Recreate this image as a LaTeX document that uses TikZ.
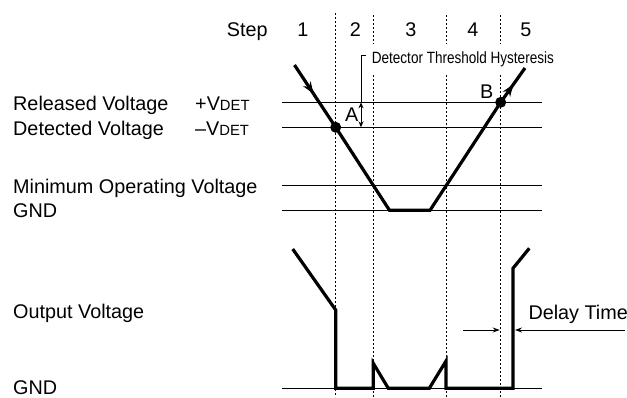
\documentclass[tikz,border=0pt]{standalone}
\usepackage{fontspec}
\setmainfont{Liberation Sans}
\newfontfamily\narrowfont[FakeStretch=0.83]{Liberation Sans}
\usetikzlibrary{arrows.meta,calc}
\begin{document}
\begin{tikzpicture}[x=1pt,y=-1pt,
  lbl/.style={font=\fontsize{19.8}{22}\selectfont, inner sep=0pt, anchor=base west},
  num/.style={font=\fontsize{19.8}{22}\selectfont, inner sep=0pt, anchor=base},
  level/.style={line width=1.1pt},
  guide/.style={line width=1pt, dash pattern=on 2pt off 2pt},
  wave/.style={line width=3.2pt},
  hd/.style={-{Stealth[length=12pt,width=9pt]}},
  small/.style={line width=1pt},
  dot/.style={circle, fill=black, inner sep=0pt, minimum size=11pt},
]
\useasboundingbox (0,0) rectangle (627,397);
% guides
\coordinate (g1t) at (335.7,13); \coordinate (g1b) at (335.7,397);
\coordinate (g2t) at (373.3,15); \coordinate (g2b) at (373.3,397);
\coordinate (g3t) at (446,15);   \coordinate (g3b) at (446,397);
\coordinate (g4t) at (500.7,15); \coordinate (g4b) at (500.7,397);
\draw[guide] (g1t) -- (g1b);
\draw[guide] (g2t) -- (g2b);
\draw[guide] (g3t) -- (g3b);
\draw[guide] (g4t) -- (g4b);
% step labels
\node[lbl] (step) at (226.7,36.7) {Step};
\node[num] (s1) at (303,36.7) {1};
\node[num] (s2) at (355.3,36.7) {2};
\node[num] (s3) at (411,36.7) {3};
\node[num] (s4) at (473,36.7) {4};
\node[num] (s5) at (526,36.7) {5};
% hysteresis label
\node[anchor=base west, fill=white, inner xsep=2pt, inner ysep=7pt,
      font=\narrowfont\fontsize{16.3}{18}\selectfont] (hyst) at (369.7,63.3) {Detector Threshold Hysteresis};
% levels
\coordinate (rl) at (282,102.3); \coordinate (rr) at (541.7,102.3);
\coordinate (dl) at (282,127.3); \coordinate (dr) at (541.7,127.3);
\coordinate (ml) at (282,185.7); \coordinate (mr) at (541.7,185.7);
\coordinate (gl) at (282,210.3); \coordinate (gr) at (541.7,210.3);
\coordinate (ol) at (282,388.3); \coordinate (or) at (541.7,388.3);
\draw[level] (rl) -- (rr);
\draw[level] (dl) -- (dr);
\draw[level] (ml) -- (mr);
\draw[level] (gl) -- (gr);
\draw[level] (ol) -- (or);
% left labels
\node[lbl] (rel) at (13,110) {Released Voltage};
\node[lbl] (relv) at (195,110) {+V{\fontsize{14.8}{16}\selectfont DET}};
\node[lbl] (det) at (13,135) {Detected Voltage};
\node[lbl] (detv) at (195,135) {–V{\fontsize{14.8}{16}\selectfont DET}};
\node[lbl] (minop) at (13,193) {Minimum Operating Voltage};
\node[lbl] (gnd1) at (13,217.8) {GND};
\node[lbl] (outv) at (13,318.5) {Output Voltage};
\node[lbl] (gnd2) at (13,394.3) {GND};
% bracket + double arrow
\coordinate (bt) at (366,55);
\coordinate (bc) at (361,55);
\coordinate (bu) at (361,102.3);
\coordinate (bd) at (361,127.3);
\draw[small] (bt) -- (bc) -- (bu);
\draw[small, {Stealth[length=6pt,width=5pt]}-{Stealth[length=6pt,width=5pt]}] (bu) -- (bd);
% input waveform
\coordinate (ist) at (294.5,65);
\coordinate (A) at (335.7,127.3);
\coordinate (ibl) at (389.5,210.3);
\coordinate (ibr) at (430,210.3);
\coordinate (B) at (500.7,102.3);
\coordinate (ien) at (525,68);
\draw[wave] (ist) -- (A) -- (ibl) -- (ibr) -- (B) -- (ien);
\draw[hd, line width=1pt] (ist) -- ($(ist)!0.46!(A)$);
\draw[hd, line width=1pt] (B) -- ($(B)!0.52!(ien)$);
\node[dot] (dA) at (A) {};
\node[dot] (dB) at (B) {};
\node[lbl] (la) at (345,121.7) {A};
\node[lbl] (lb) at (480,98.3) {B};
% output waveform
\draw[wave] (292.7,249) -- (335.7,310) -- (335.7,388.3) -- (373.3,388.3)
  -- (373.3,363.3) -- (388.3,388.3) -- (429.3,388.3) -- (446,361)
  -- (446,388.3) -- (513,388.3) -- (513,268.3) -- (529.3,248.3);
% delay time
\coordinate (dl1) at (463.3,330); \coordinate (dt1) at (499.7,330);
\coordinate (dl2) at (625,330);   \coordinate (dt2) at (515,330);
\draw[small, -{Stealth[length=7pt,width=5pt]}] (dl1) -- (dt1);
\draw[small, -{Stealth[length=7pt,width=5pt]}] (dl2) -- (dt2);
\node[lbl] (delay) at (528.3,319) {Delay Time};
\end{tikzpicture}
\end{document}
